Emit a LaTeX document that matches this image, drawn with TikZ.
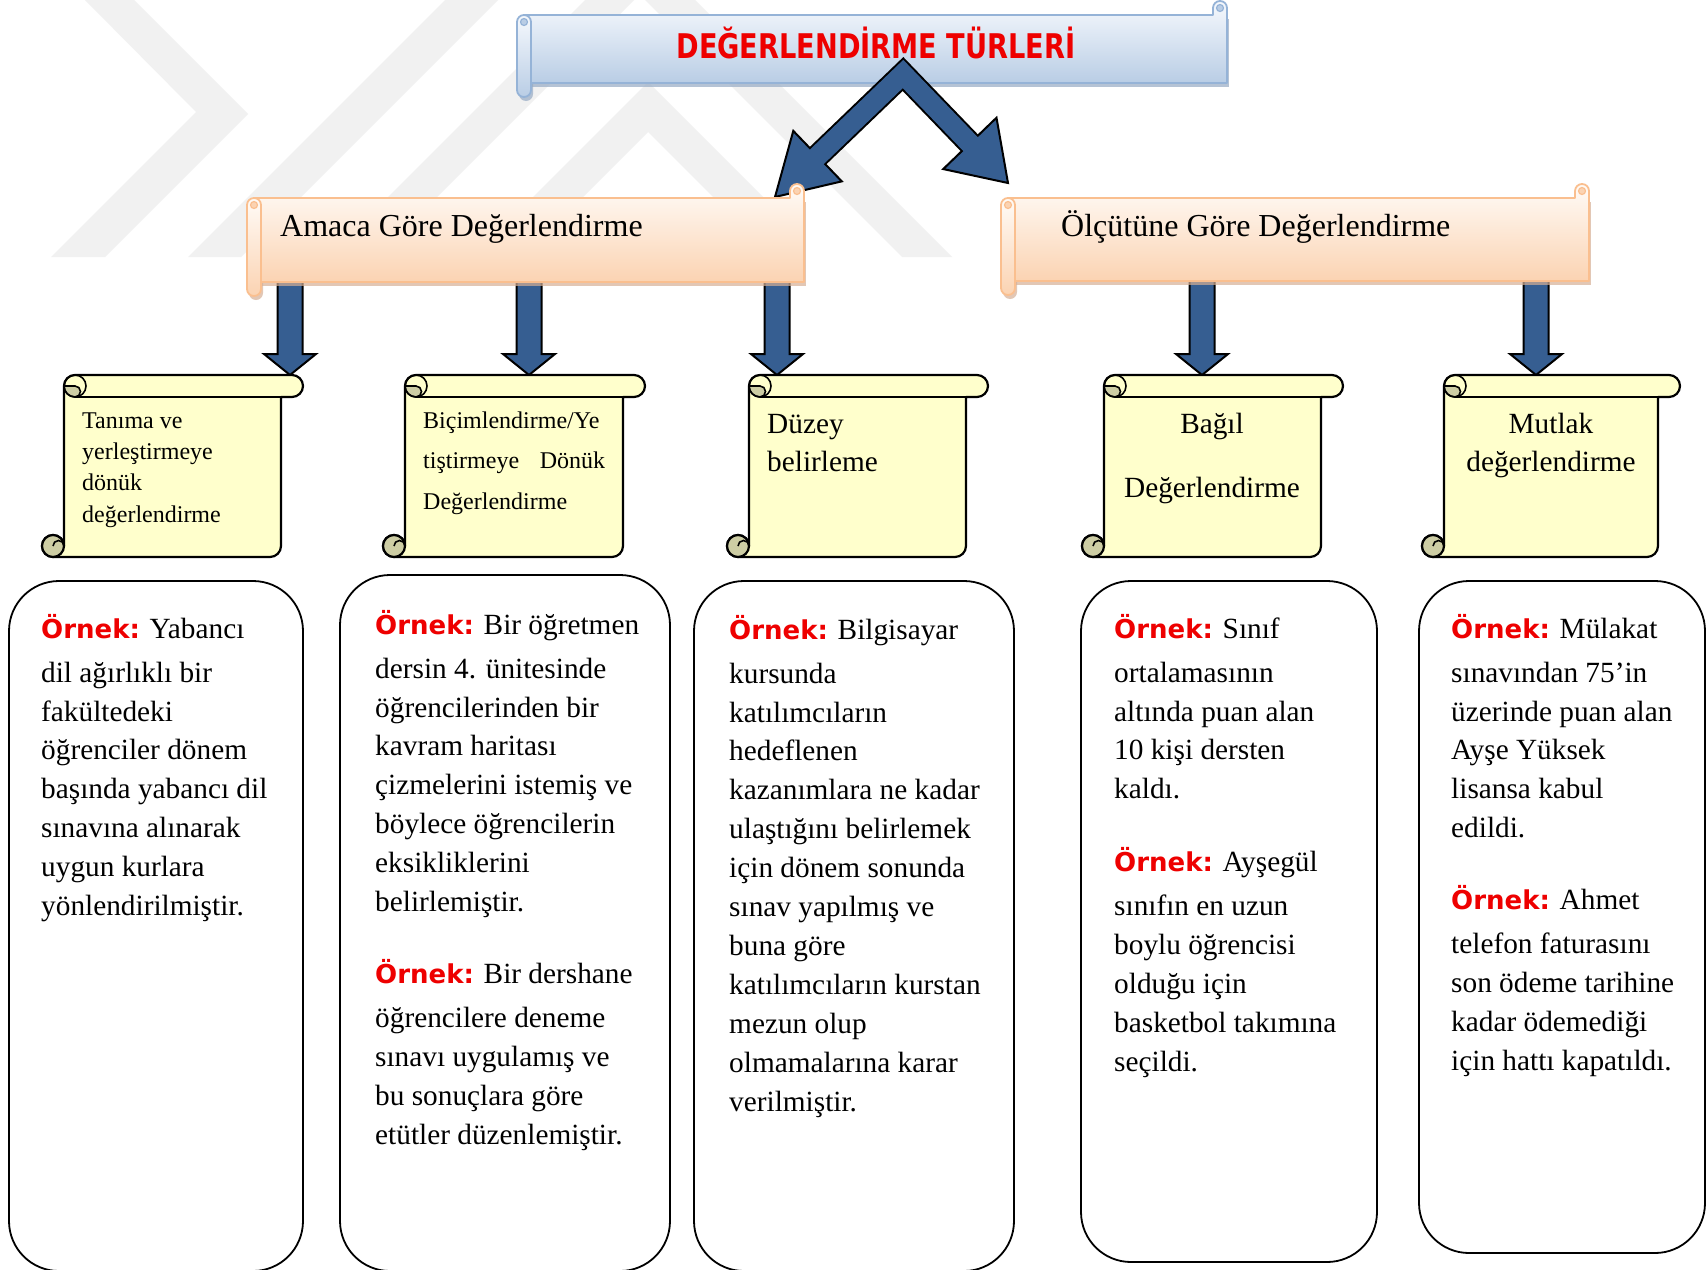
\documentclass[tikz,border=0pt]{standalone}
\usepackage{fontspec}
\setmainfont{Liberation Serif}
\newfontfamily\decofont{DejaVu Sans}
\usetikzlibrary{calc}

\definecolor{arrowblue}{RGB}{54,94,145}
\definecolor{scrollfill}{RGB}{255,255,204}
\definecolor{curlfill}{RGB}{205,205,164}
\definecolor{hdrline}{RGB}{250,191,143}
\definecolor{hdrtop}{RGB}{255,251,247}
\definecolor{hdrbot}{RGB}{251,211,178}
\definecolor{hdrshadow}{RGB}{214,176,150}
\definecolor{ttlline}{RGB}{149,179,215}
\definecolor{ttltop}{RGB}{246,249,253}
\definecolor{ttlbot}{RGB}{185,205,229}
\definecolor{ttlshadow}{RGB}{150,170,196}
\definecolor{wmgray}{RGB}{241,241,241}
\definecolor{ornekred}{RGB}{238,0,0}

\newcommand\ornek{{\decofont\bfseries\color{ornekred}\fontsize{26}{30}\selectfont Örnek:}}
\newcommand\topstrut{\rule{0pt}{27pt}}

% horizontal scroll banner: left, top, right, bottom, top colour, bottom colour, line colour, shadow colour
\newcommand\hscroll[8]{%
  \fill[#8, opacity=0.7] ({#1+9},{#2+4}) rectangle ({#3+2},{#4+4});
  \fill[#8, opacity=0.7, rounded corners=7pt] ({#1+2},{#2+4}) rectangle ({#1+16},{#4+18});
  \shade[top color=#5, bottom color=#6, draw=#7, line width=1.8pt, line join=round]
    ({#1+7},#2) -- ({#3-14},#2) -- ({#3-14},{#2-7})
    arc[start angle=180, end angle=360, radius=7] -- (#3,#4) -- ({#1+7},#4) -- cycle;
  \filldraw[fill=#6, draw=#7, line width=1.2pt] ({#3-7},{#2-7}) circle[radius=3.5];
  \shade[top color=#5, bottom color=#6, draw=#7, line width=1.8pt, rounded corners=7pt]
    (#1,#2) rectangle ({#1+14},{#4+14});
  \filldraw[fill=#6, draw=#7, line width=1.2pt] ({#1+7},{#2+7}) circle[radius=3.5];
}

% vertical scroll: left, top, right, bottom
\newcommand\vscroll[4]{%
  \draw[line width=2.2pt, fill=scrollfill, line join=round]
    ({#1+22},{#4-11}) -- ({#1+22},{#2+11})
    arc[start angle=180, end angle=270, radius=11] -- ({#3-11},#2)
    arc[start angle=270, end angle=450, radius=11] -- ({#3-22},{#2+22})
    -- ({#3-22},{#4-11}) arc[start angle=0, end angle=90, radius=11]
    -- ({#1+11},#4) arc[start angle=90, end angle=360, radius=11] -- cycle;
  \draw[line width=2.2pt] ({#1+33},{#2+22}) -- ({#3-22},{#2+22});
  \filldraw[line width=1.6pt, fill=curlfill] ({#1+22},{#2+11})
    arc[start angle=180, end angle=90, radius=11]
    arc[start angle=90, end angle=-90, radius=5.5] -- cycle;
  \draw[line width=1.6pt] ({#1+33},{#2+11}) circle[radius=11];
  \filldraw[line width=2.2pt, fill=curlfill] ({#1+11},{#4-11}) circle[radius=11];
  \draw[line width=1.6pt] ({#1+22},{#4-11}) arc[start angle=0, end angle=-180, radius=5.5];
}

% block arrow pointing down, from a named start to a named tip
\newcommand\blockdown[2]{%
  \path[blk] ($(#1)+(-12.5,0)$) -- ($(#1)+(12.5,0)$) -- ($(#2)+(12.5,-21)$)
    -- ($(#2)+(26,-21)$) -- (#2) -- ($(#2)+(-26,-21)$) -- ($(#2)+(-12.5,-21)$) -- cycle;}

\tikzset{
  blk/.style={fill=arrowblue, draw=black, line width=2pt, line join=miter},
  casebox/.style={draw=black, line width=1.8pt, rounded corners=50pt, fill=white},
  bodytxt/.style={inner sep=0pt, anchor=north west, align=left,
    font=\fontsize{29.3}{38.9}\selectfont},
  headtxt/.style={inner sep=0pt, anchor=base west, font=\fontsize{32}{38}\selectfont},
}

\begin{document}
\begin{tikzpicture}[x=1pt,y=-1pt]
\useasboundingbox (0,0) rectangle (1708,1269);
\fill[white] (0,0) rectangle (1708,1269);

% faint logo bands in the background
\fill[wmgray] (85,0) -- (134,0) -- (248,114) -- (105,257) -- (51,257) -- (196,112) -- cycle;
\fill[wmgray] (188,257) -- (241,257) -- (498,0) -- (445,0) -- cycle;
\fill[wmgray] (388,197) -- (437,197) -- (634,0) -- (585,0) -- cycle;
\fill[wmgray] (533,197) -- (648,82) -- (763,197) -- (713,197) -- (648,132) -- (583,197) -- cycle;
\fill[wmgray] (645,0) -- (695,0) -- (952,257) -- (902,257) -- cycle;

% title banner
\hscroll{517}{15}{1227}{83}{ttltop}{ttlbot}{ttlline}{ttlshadow}
\node[inner sep=0pt, anchor=base, text=ornekred,
  font=\decofont\bfseries\fontsize{34}{40}\selectfont] (ttl) at (876,58)
  {\scalebox{0.80}[1]{DEĞERLENDİRME TÜRLERİ}};

% chevron arrow from the title to both headers
\coordinate (apex) at (903,74);
\coordinate (tipL) at (775,197);
\coordinate (tipR) at (1008,183);
\coordinate (bL) at ($(tipL)!59pt!(apex)$);
\coordinate (wL1) at ($(bL)!35pt!90:(tipL)$);
\coordinate (wL2) at ($(bL)!35pt!-90:(tipL)$);
\coordinate (bR) at ($(tipR)!55pt!(apex)$);
\coordinate (wR1) at ($(bR)!37pt!90:(tipR)$);
\coordinate (wR2) at ($(bR)!37pt!-90:(tipR)$);
\draw[line width=24pt, line join=miter, black]
  ($(tipL)!50pt!(apex)$) -- (apex) -- ($(tipR)!46pt!(apex)$);
\path[blk] (tipL) -- (wL1) -- (wL2) -- cycle;
\path[blk] (tipR) -- (wR1) -- (wR2) -- cycle;
\draw[line width=20pt, line join=miter, arrowblue]
  ($(tipL)!48pt!(apex)$) -- (apex) -- ($(tipR)!44pt!(apex)$);

% down arrows from the headers to the scrolls
\coordinate (a1s) at (290,270);  \coordinate (a1t) at (290,375);
\coordinate (a2s) at (529,270);  \coordinate (a2t) at (529,375);
\coordinate (a3s) at (777,270);  \coordinate (a3t) at (777,375);
\coordinate (a4s) at (1202,270); \coordinate (a4t) at (1202,375);
\coordinate (a5s) at (1536,270); \coordinate (a5t) at (1536,375);
\blockdown{a1s}{a1t}
\blockdown{a2s}{a2t}
\blockdown{a3s}{a3t}
\blockdown{a4s}{a4t}
\blockdown{a5s}{a5t}

% header banners
\hscroll{247}{198}{804}{282}{hdrtop}{hdrbot}{hdrline}{hdrshadow}
\hscroll{1001}{198}{1589}{281}{hdrtop}{hdrbot}{hdrline}{hdrshadow}
\node[headtxt] (hA) at (280,236) {Amaca Göre Değerlendirme};
\node[headtxt] (hB) at (1061,236) {Ölçütüne Göre Değerlendirme};

% scrolls
\vscroll{42}{375}{303}{557}
\vscroll{383}{375}{645}{557}
\vscroll{727}{375}{988}{557}
\vscroll{1082}{375}{1343}{557}
\vscroll{1422}{375}{1680}{557}

\node[inner sep=0pt, anchor=north west, align=left, font=\fontsize{24}{31.3}\selectfont]
  (s1) at (82,406) {\rule{0pt}{22pt}Tanıma ve\\yerleştirmeye\\dönük\\değerlendirme};
\node[inner sep=0pt, anchor=north west, align=left, font=\fontsize{24}{40.5}\selectfont]
  (s2) at (423,406) {\rule{0pt}{22pt}Biçimlendirme/Ye\\\makebox[182pt][l]{tiştirmeye\hfill Dönük}\\Değerlendirme};
\node[inner sep=0pt, anchor=north west, align=left, font=\fontsize{29.3}{38}\selectfont]
  (s3) at (767,406) {\topstrut Düzey\\belirleme};
\node[inner sep=0pt, anchor=north, align=center, font=\fontsize{29.3}{38.9}\selectfont]
  (s4) at (1212,406) {\topstrut Bağıl\\[25pt]Değerlendirme};
\node[inner sep=0pt, anchor=north, align=center, font=\fontsize{29.3}{38}\selectfont]
  (s5) at (1551,406) {\topstrut Mutlak\\değerlendirme};

% example boxes
\path[casebox] (9,581) rectangle (303,1271);
\path[casebox] (340,575) rectangle (670,1271);
\path[casebox] (694,581) rectangle (1014,1271);
\path[casebox] (1081,581) rectangle (1377,1262);
\path[casebox] (1419,581) rectangle (1705,1253);

\node[bodytxt] (b1) at (41,611) {\topstrut\ornek{} Yabancı\\[5pt]dil ağırlıklı bir\\fakültedeki\\öğrenciler dönem\\başında yabancı dil\\sınavına alınarak\\uygun kurlara\\yönlendirilmiştir.};
\node[bodytxt] (b2) at (375,607) {\topstrut\ornek{} Bir öğretmen\\[5pt]dersin 4. ünitesinde\\öğrencilerinden bir\\kavram haritası\\çizmelerini istemiş ve\\böylece öğrencilerin\\eksikliklerini\\belirlemiştir.\\[33pt]\ornek{} Bir dershane\\[5pt]öğrencilere deneme\\sınavı uygulamış ve\\bu sonuçlara göre\\etütler düzenlemiştir.};
\node[bodytxt] (b3) at (729,612) {\topstrut\ornek{} Bilgisayar\\[5pt]kursunda\\katılımcıların\\hedeflenen\\kazanımlara ne kadar\\ulaştığını belirlemek\\için dönem sonunda\\sınav yapılmış ve\\buna göre\\katılımcıların kurstan\\mezun olup\\olmamalarına karar\\verilmiştir.};
\node[bodytxt] (b4) at (1114,611) {\topstrut\ornek{} Sınıf\\[5pt]ortalamasının\\altında puan alan\\10 kişi dersten\\kaldı.\\[34pt]\ornek{} Ayşegül\\[5pt]sınıfın en uzun\\boylu öğrencisi\\olduğu için\\basketbol takımına\\seçildi.};
\node[bodytxt] (b5) at (1451,611) {\topstrut\ornek{} Mülakat\\[5pt]sınavından 75’in\\üzerinde puan alan\\Ayşe Yüksek\\lisansa kabul\\edildi.\\[33pt]\ornek{} Ahmet\\[5pt]telefon faturasını\\son ödeme tarihine\\kadar ödemediği\\için hattı kapatıldı.};
\end{tikzpicture}
\end{document}
